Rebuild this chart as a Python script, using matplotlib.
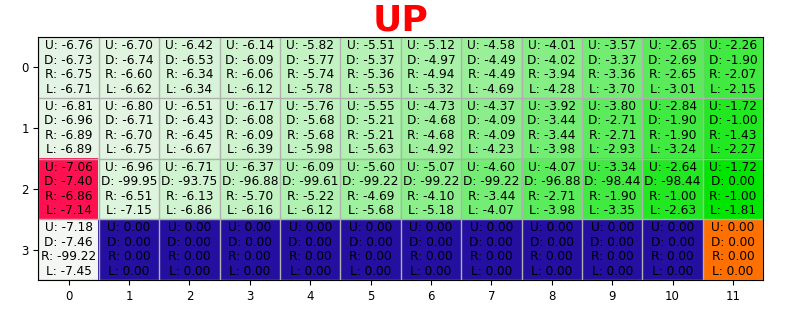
import numpy as np
import matplotlib
matplotlib.use("Agg")
import matplotlib.pyplot as plt
from matplotlib.colors import LinearSegmentedColormap, Normalize, to_rgba

# Q values per action, rows 0..3, cols 0..11
q_up = [
    [-6.76, -6.70, -6.42, -6.14, -5.82, -5.51, -5.12, -4.58, -4.01, -3.57, -2.65, -2.26],
    [-6.81, -6.80, -6.51, -6.17, -5.76, -5.55, -4.73, -4.37, -3.92, -3.80, -2.84, -1.72],
    [-7.06, -6.96, -6.71, -6.37, -6.09, -5.60, -5.07, -4.60, -4.07, -3.34, -2.64, -1.72],
    [-7.18, 0.00, 0.00, 0.00, 0.00, 0.00, 0.00, 0.00, 0.00, 0.00, 0.00, 0.00],
]
q_down = [
    [-6.73, -6.74, -6.53, -6.09, -5.77, -5.37, -4.97, -4.49, -4.02, -3.37, -2.69, -1.90],
    [-6.96, -6.71, -6.43, -6.08, -5.68, -5.21, -4.68, -4.09, -3.44, -2.71, -1.90, -1.00],
    [-7.40, -99.95, -93.75, -96.88, -99.61, -99.22, -99.22, -99.22, -96.88, -98.44, -98.44, 0.00],
    [-7.46, 0.00, 0.00, 0.00, 0.00, 0.00, 0.00, 0.00, 0.00, 0.00, 0.00, 0.00],
]
q_right = [
    [-6.75, -6.60, -6.34, -6.06, -5.74, -5.36, -4.94, -4.49, -3.94, -3.36, -2.65, -2.07],
    [-6.89, -6.70, -6.45, -6.09, -5.68, -5.21, -4.68, -4.09, -3.44, -2.71, -1.90, -1.43],
    [-6.86, -6.51, -6.13, -5.70, -5.22, -4.69, -4.10, -3.44, -2.71, -1.90, -1.00, -1.00],
    [-99.22, 0.00, 0.00, 0.00, 0.00, 0.00, 0.00, 0.00, 0.00, 0.00, 0.00, 0.00],
]
q_left = [
    [-6.71, -6.62, -6.34, -6.12, -5.78, -5.53, -5.32, -4.69, -4.28, -3.70, -3.01, -2.15],
    [-6.89, -6.75, -6.67, -6.39, -5.98, -5.63, -4.92, -4.23, -3.98, -2.93, -3.24, -2.27],
    [-7.14, -7.15, -6.86, -6.16, -6.12, -5.68, -5.18, -4.07, -3.98, -3.35, -2.63, -1.81],
    [-7.45, 0.00, 0.00, 0.00, 0.00, 0.00, 0.00, 0.00, 0.00, 0.00, 0.00, 0.00],
]

cliff_cells = [(3, c) for c in range(1, 11)]
goal_cell = (3, 11)
agent_cell = (2, 0)
title = "UP"

n_rows, n_cols = 4, 12
U, D, R, L = (np.array(a) for a in (q_up, q_down, q_right, q_left))
best = np.max(np.stack([U, D, R, L]), axis=0)

cmap = LinearSegmentedColormap.from_list("q", ["#f4f6f4", "#00e600"])
norm = Normalize(vmin=best.min(), vmax=0.0)
img = cmap(norm(best))
for cell in cliff_cells:
    img[cell] = to_rgba("#2310a0")
img[goal_cell] = to_rgba("#ff7000")
img[agent_cell] = to_rgba("#ff1050")

fig = plt.figure(figsize=(8, 3.09), dpi=100)
ax = fig.add_axes([0.048, 0.094, 0.906, 0.786])
ax.imshow(img, aspect="auto", interpolation="nearest")

for r in range(n_rows):
    for c in range(n_cols):
        txt = (f"U: {U[r, c]:.2f}\nD: {D[r, c]:.2f}\n"
               f"R: {R[r, c]:.2f}\nL: {L[r, c]:.2f}")
        ax.text(c, r, txt, ha="center", va="center", fontsize=8.7,
                linespacing=1.15)

ax.set_xticks(range(n_cols))
ax.set_yticks(range(n_rows))
ax.set_xticks(np.arange(-0.5, n_cols, 1), minor=True)
ax.set_yticks(np.arange(-0.5, n_rows, 1), minor=True)
ax.grid(which="minor", color="#b0b0b0", linewidth=1)
ax.tick_params(which="minor", length=0)
ax.tick_params(labelsize=8.5)
ax.set_title(title, color="red", fontsize=26, fontweight="bold", pad=2)

plt.savefig("out.png", dpi=100)
